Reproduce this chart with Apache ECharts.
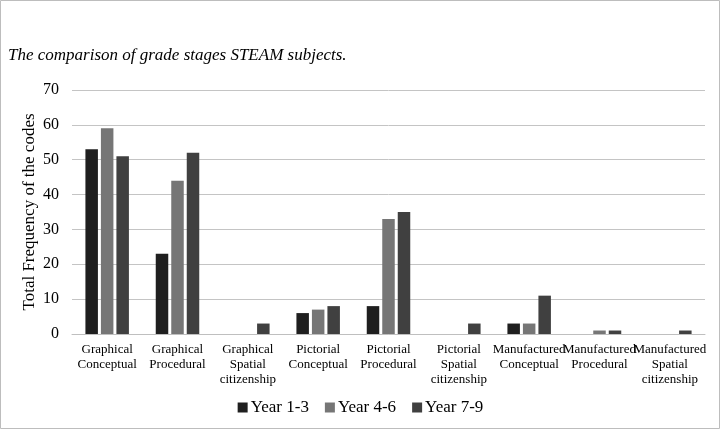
<!DOCTYPE html>
<html><head><meta charset="utf-8">
<script src="https://cdn.jsdelivr.net/npm/echarts@6/dist/echarts.min.js"></script>
<style>html,body{margin:0;padding:0;background:#fff}#c{width:721px;height:430px}</style>
</head><body><div id="c"></div>
<script>
var categories = ['Graphical\nConceptual','Graphical\nProcedural','Graphical\nSpatial\ncitizenship','Pictorial\nConceptual','Pictorial\nProcedural','Pictorial\nSpatial\ncitizenship','Manufactured\nConceptual','Manufactured\nProcedural','Manufactured\nSpatial\ncitizenship'];
var year13 = [53, 23, 0, 6, 8, 0, 3, 0, 0];
var year46 = [59, 44, 0, 7, 33, 0, 3, 1, 0];
var year79 = [51, 52, 3, 8, 35, 3, 11, 1, 1];
var seriesNames = ['Year 1-3','Year 4-6','Year 7-9'];
var colors = ['#1f1f1f','#767676','#404040'];
var font = 'Liberation Serif';
var chart = echarts.init(document.getElementById('c'));
var data = [year13, year46, year79];
chart.setOption({
  animation: false,
  textStyle: {fontFamily: font},
  graphic: [
    {type:'rect', shape:{x:0.5,y:0.5,width:719,height:428}, style:{fill:'none', stroke:'#bdbdbd', lineWidth:1}},
    {type:'text', left:8, top:47, style:{text:'The comparison of grade stages STEAM subjects.', font:'italic 17px "Liberation Serif"', fill:'#000'}}
  ],
  legend: {
    bottom: 9, left: 'center', itemWidth: 10, itemHeight: 10, itemGap: 16,
    icon: 'rect',
    textStyle: {fontFamily: font, fontSize: 17, color: '#000', padding: [0,0,0,-2]},
    data: seriesNames
  },
  grid: {left: 72, right: 16, top: 90, bottom: 96},
  xAxis: {
    type: 'category', data: categories,
    axisLine: {lineStyle: {color: '#bfbfbf'}},
    axisTick: {show: false},
    axisLabel: {interval: 0, fontFamily: font, fontSize: 13, color: '#000', lineHeight: 15, margin: 8}
  },
  yAxis: {
    type: 'value', min: 0, max: 70, interval: 10,
    name: 'Total Frequency of the codes', nameLocation: 'middle', nameGap: 34, nameMoveOverlap: false,
    nameTextStyle: {fontFamily: font, fontSize: 17, color: '#000'},
    axisLine: {show: false}, axisTick: {show: false},
    axisLabel: {fontFamily: font, fontSize: 16, color: '#000', margin: 13},
    splitLine: {lineStyle: {color: '#c4c4c4', width: 1}}
  },
  series: seriesNames.map(function(n, i){
    return {name: n, type: 'bar', data: data[i], barWidth: 12.5, barGap: '24%',
      itemStyle: {color: colors[i]}};
  })
});
</script></body></html>
